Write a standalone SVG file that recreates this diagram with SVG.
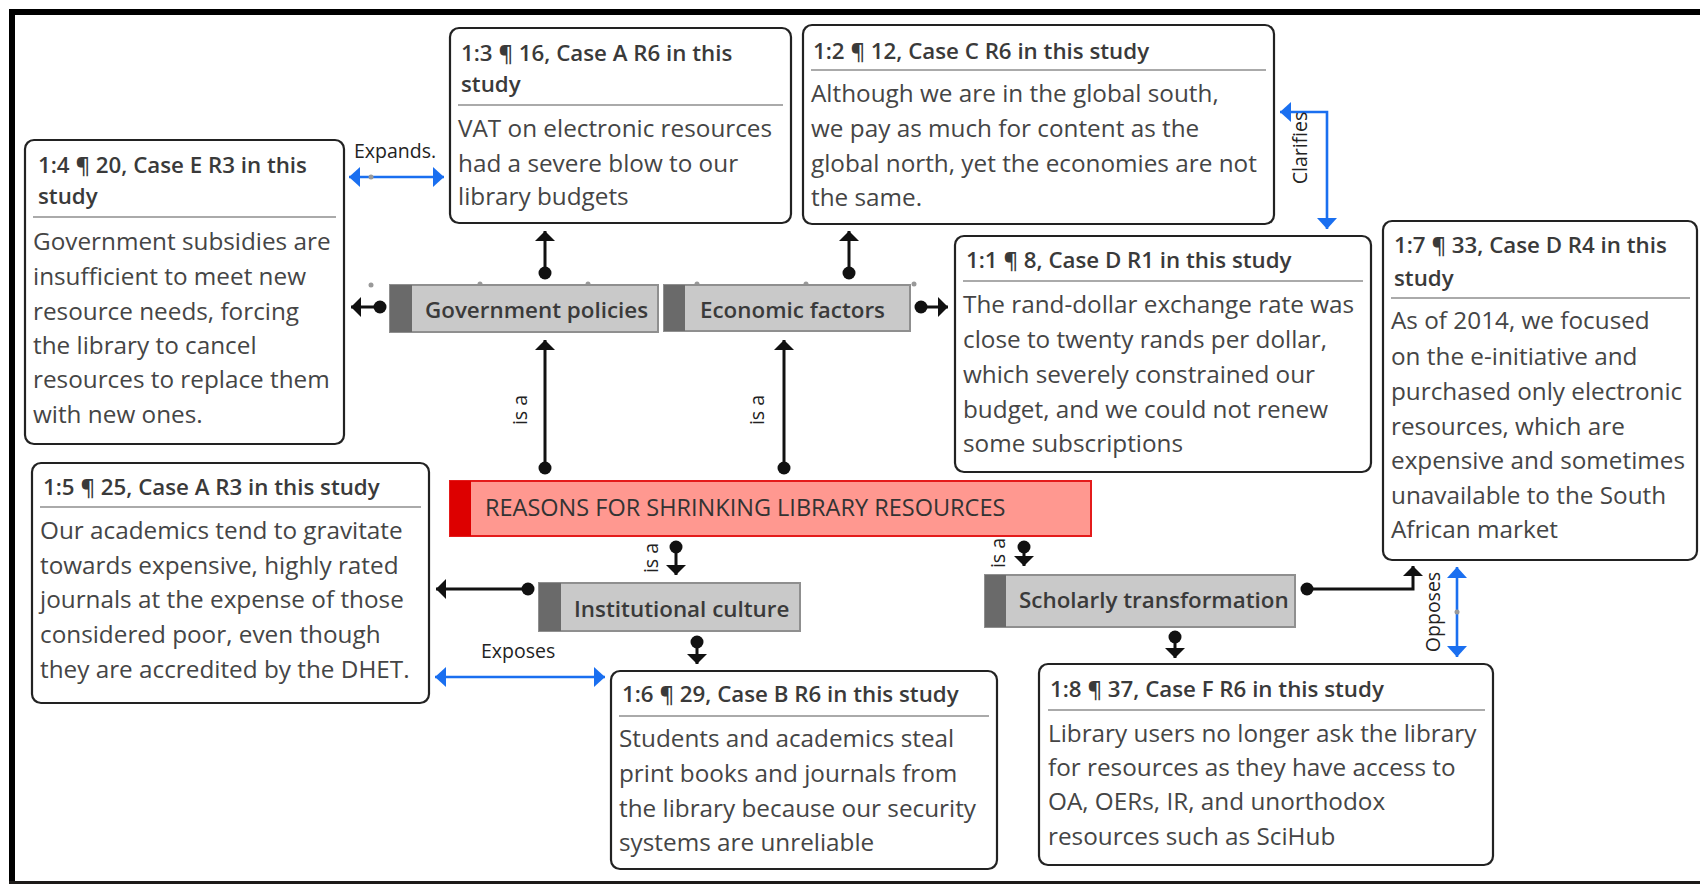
<svg xmlns="http://www.w3.org/2000/svg" width="1700" height="884" viewBox="0 0 1700 884">
<style>
.q{fill:#fff;stroke:#222;stroke-width:2.2}
.sep{stroke:#aaa;stroke-width:2}
.tt{font-family:"Open Sans","Noto Sans",sans-serif;font-size:22.3px;font-weight:600;fill:#3a3a3a}
.bd{font-family:"Open Sans","Noto Sans",sans-serif;font-size:24.3px;fill:#454545}
.cb{fill:#c9c9c9;stroke:#8f8f8f;stroke-width:2}
.cs{fill:#6a6a6a}
.ct{font-family:"Open Sans","Noto Sans",sans-serif;font-size:22.4px;font-weight:600;fill:#3a3a3a}
.lb{font-family:"Open Sans","Noto Sans",sans-serif;font-size:19.5px;fill:#222}
.ln{fill:none;stroke:#111;stroke-width:3}
.bl{fill:none;stroke:#1a6ff0;stroke-width:2.6}
.hd{fill:#999}
</style>
<defs>
<marker id="arr" markerUnits="userSpaceOnUse" viewBox="-1 -11 12 22" refX="10" refY="0" markerWidth="12" markerHeight="22" orient="auto">
<path d="M0,-10 L10,0 L0,10 Z" fill="#111"/>
</marker>
<marker id="dot" markerUnits="userSpaceOnUse" viewBox="-8 -8 16 16" refX="0" refY="0" markerWidth="16" markerHeight="16" orient="auto">
<circle cx="0" cy="0" r="6.5" fill="#111"/>
</marker>
<marker id="barr" markerUnits="userSpaceOnUse" viewBox="-1 -11 13 22" refX="11" refY="0" markerWidth="13" markerHeight="22" orient="auto-start-reverse">
<path d="M0,-10 L11,0 L0,10 Z" fill="#1a6ff0"/>
</marker>
</defs>
<rect x="0" y="0" width="1700" height="884" fill="#fff"/>
<!-- frame -->
<rect x="9" y="9" width="1691" height="6" fill="#000"/>
<rect x="9" y="9" width="6" height="875" fill="#000"/>
<rect x="9" y="881" width="1691" height="3" fill="#1c1a18"/>

<g id="connectors">
<line class="ln" x1="545" y1="273" x2="545" y2="231" marker-start="url(#dot)" marker-end="url(#arr)"/>
<line class="ln" x1="849" y1="273" x2="849" y2="231" marker-start="url(#dot)" marker-end="url(#arr)"/>
<line class="ln" x1="380" y1="307" x2="351" y2="307" marker-start="url(#dot)" marker-end="url(#arr)"/>
<line class="ln" x1="921" y1="307" x2="948" y2="307" marker-start="url(#dot)" marker-end="url(#arr)"/>
<line class="ln" x1="545" y1="468" x2="545" y2="340" marker-start="url(#dot)" marker-end="url(#arr)"/>
<line class="ln" x1="784" y1="468" x2="784" y2="340" marker-start="url(#dot)" marker-end="url(#arr)"/>
<line class="ln" x1="676" y1="547" x2="676" y2="575" marker-start="url(#dot)" marker-end="url(#arr)"/>
<line class="ln" x1="1024" y1="547" x2="1024" y2="566" marker-start="url(#dot)" marker-end="url(#arr)"/>
<line class="ln" x1="528" y1="589" x2="436" y2="589" marker-start="url(#dot)" marker-end="url(#arr)"/>
<line class="ln" x1="697" y1="642" x2="697" y2="664" marker-start="url(#dot)" marker-end="url(#arr)"/>
<line class="ln" x1="1175" y1="637" x2="1175" y2="658" marker-start="url(#dot)" marker-end="url(#arr)"/>
<polyline class="ln" points="1307,589 1413,589 1413,566" marker-start="url(#dot)" marker-end="url(#arr)"/>
<line class="bl" x1="349" y1="177" x2="444" y2="177" marker-start="url(#barr)" marker-end="url(#barr)"/>
<circle class="hd" cx="371" cy="177" r="2.5"/>
<polyline class="bl" points="1280,112 1327,112 1327,229" marker-start="url(#barr)" marker-end="url(#barr)"/>
<line class="bl" x1="435" y1="677" x2="605" y2="677" marker-start="url(#barr)" marker-end="url(#barr)"/>
<line class="bl" x1="1457" y1="567" x2="1457" y2="657" marker-start="url(#barr)" marker-end="url(#barr)"/>
<circle class="hd" cx="1457" cy="612" r="2.5"/>
<text class="lb" x="354" y="158">Expands.</text>
<text class="lb" x="481" y="658">Exposes</text>
<text class="lb" transform="translate(1307,148) rotate(-90)" text-anchor="middle">Clarifies</text>
<text class="lb" transform="translate(1440,612) rotate(-90)" text-anchor="middle">Opposes</text>
<text class="lb" transform="translate(527,410) rotate(-90)" text-anchor="middle">is a</text>
<text class="lb" transform="translate(764,410) rotate(-90)" text-anchor="middle">is a</text>
<text class="lb" transform="translate(658,558) rotate(-90)" text-anchor="middle">is a</text>
<text class="lb" transform="translate(1005,553) rotate(-90)" text-anchor="middle">is a</text>
</g>

<!-- handle dots -->
<g id="handles">
<circle class="hd" cx="371" cy="285" r="2.5"/>
<circle class="hd" cx="480" cy="284" r="2.5"/>
<circle class="hd" cx="588" cy="284" r="2.5"/>
<circle class="hd" cx="697" cy="284" r="2.5"/>
<circle class="hd" cx="806" cy="284" r="2.5"/>
<circle class="hd" cx="914" cy="284" r="2.5"/>
</g>

<g id="q14">
<rect class="q" x="25" y="140" width="319" height="304" rx="9"/>
<text class="tt" x="38" y="173">1:4 ¶ 20, Case E R3 in this</text>
<text class="tt" x="38" y="204">study</text>
<line class="sep" x1="33" y1="217" x2="336" y2="217"/>
<text class="bd" x="33" y="250">Government subsidies are</text>
<text class="bd" x="33" y="285">insufficient to meet new</text>
<text class="bd" x="33" y="320">resource needs, forcing</text>
<text class="bd" x="33" y="354">the library to cancel</text>
<text class="bd" x="33" y="388">resources to replace them</text>
<text class="bd" x="33" y="423">with new ones.</text>
</g>

<g id="q13">
<rect class="q" x="450" y="28" width="341" height="195" rx="9"/>
<text class="tt" x="461" y="61">1:3 ¶ 16, Case A R6 in this</text>
<text class="tt" x="461" y="92">study</text>
<line class="sep" x1="458" y1="105" x2="783" y2="105"/>
<text class="bd" x="458" y="137">VAT on electronic resources</text>
<text class="bd" x="458" y="172">had a severe blow to our</text>
<text class="bd" x="458" y="205">library budgets</text>
</g>

<g id="q12">
<rect class="q" x="803" y="25" width="471" height="199" rx="9"/>
<text class="tt" x="813" y="59">1:2 ¶ 12, Case C R6 in this study</text>
<line class="sep" x1="811" y1="70" x2="1266" y2="70"/>
<text class="bd" x="811" y="102">Although we are in the global south,</text>
<text class="bd" x="811" y="137">we pay as much for content as the</text>
<text class="bd" x="811" y="172">global north, yet the economies are not</text>
<text class="bd" x="811" y="206">the same.</text>
</g>

<g id="q11">
<rect class="q" x="955" y="236" width="416" height="236" rx="9"/>
<text class="tt" x="966" y="268">1:1 ¶ 8, Case D R1 in this study</text>
<line class="sep" x1="963" y1="281" x2="1363" y2="281"/>
<text class="bd" x="963" y="313">The rand-dollar exchange rate was</text>
<text class="bd" x="963" y="348">close to twenty rands per dollar,</text>
<text class="bd" x="963" y="383">which severely constrained our</text>
<text class="bd" x="963" y="418">budget, and we could not renew</text>
<text class="bd" x="963" y="452">some subscriptions</text>
</g>

<g id="q17">
<rect class="q" x="1383" y="221" width="314" height="339" rx="9"/>
<text class="tt" x="1394" y="253">1:7 ¶ 33, Case D R4 in this</text>
<text class="tt" x="1394" y="286">study</text>
<line class="sep" x1="1391" y1="298" x2="1690" y2="298"/>
<text class="bd" x="1391" y="329">As of 2014, we focused</text>
<text class="bd" x="1391" y="365">on the e-initiative and</text>
<text class="bd" x="1391" y="400">purchased only electronic</text>
<text class="bd" x="1391" y="435">resources, which are</text>
<text class="bd" x="1391" y="469">expensive and sometimes</text>
<text class="bd" x="1391" y="504">unavailable to the South</text>
<text class="bd" x="1391" y="538">African market</text>
</g>

<g id="q15">
<rect class="q" x="32" y="463" width="397" height="240" rx="9"/>
<text class="tt" x="43" y="495">1:5 ¶ 25, Case A R3 in this study</text>
<line class="sep" x1="40" y1="507" x2="421" y2="507"/>
<text class="bd" x="40" y="539">Our academics tend to gravitate</text>
<text class="bd" x="40" y="574">towards expensive, highly rated</text>
<text class="bd" x="40" y="608">journals at the expense of those</text>
<text class="bd" x="40" y="643">considered poor, even though</text>
<text class="bd" x="40" y="678">they are accredited by the DHET.</text>
</g>

<g id="q16">
<rect class="q" x="611" y="671" width="386" height="198" rx="9"/>
<text class="tt" x="622" y="702">1:6 ¶ 29, Case B R6 in this study</text>
<line class="sep" x1="619" y1="716" x2="989" y2="716"/>
<text class="bd" x="619" y="747">Students and academics steal</text>
<text class="bd" x="619" y="782">print books and journals from</text>
<text class="bd" x="619" y="817">the library because our security</text>
<text class="bd" x="619" y="851">systems are unreliable</text>
</g>

<g id="q18">
<rect class="q" x="1039" y="664" width="454" height="201" rx="9"/>
<text class="tt" x="1050" y="697">1:8 ¶ 37, Case F R6 in this study</text>
<line class="sep" x1="1048" y1="710" x2="1485" y2="710"/>
<text class="bd" x="1048" y="742">Library users no longer ask the library</text>
<text class="bd" x="1048" y="776">for resources as they have access to</text>
<text class="bd" x="1048" y="810">OA, OERs, IR, and unorthodox</text>
<text class="bd" x="1048" y="845">resources such as SciHub</text>
</g>

<g id="gov">
<rect class="cb" x="390" y="285" width="268" height="47"/>
<rect class="cs" x="390" y="285" width="22" height="47"/>
<text class="ct" x="425" y="318">Government policies</text>
</g>

<g id="econ">
<rect class="cb" x="664" y="285" width="246" height="46"/>
<rect class="cs" x="664" y="285" width="21" height="46"/>
<text class="ct" x="700" y="318">Economic factors</text>
</g>

<g id="inst">
<rect class="cb" x="539" y="583" width="261" height="48"/>
<rect class="cs" x="539" y="583" width="22" height="48"/>
<text class="ct" x="574" y="617">Institutional culture</text>
</g>

<g id="schol">
<rect class="cb" x="985" y="575" width="310" height="52"/>
<rect class="cs" x="985" y="575" width="21" height="52"/>
<text class="ct" x="1019" y="608">Scholarly transformation</text>
</g>

<g id="reasons">
<rect x="450" y="481" width="641" height="55" fill="#ff9890" stroke="#e41b1b" stroke-width="2"/>
<rect x="450" y="481" width="21" height="55" fill="#dd0000"/>
<text x="485" y="516" font-family="'Open Sans','Noto Sans',sans-serif" font-size="23.5px" font-weight="500" fill="#333">REASONS FOR SHRINKING LIBRARY RESOURCES</text>
</g>
</svg>
